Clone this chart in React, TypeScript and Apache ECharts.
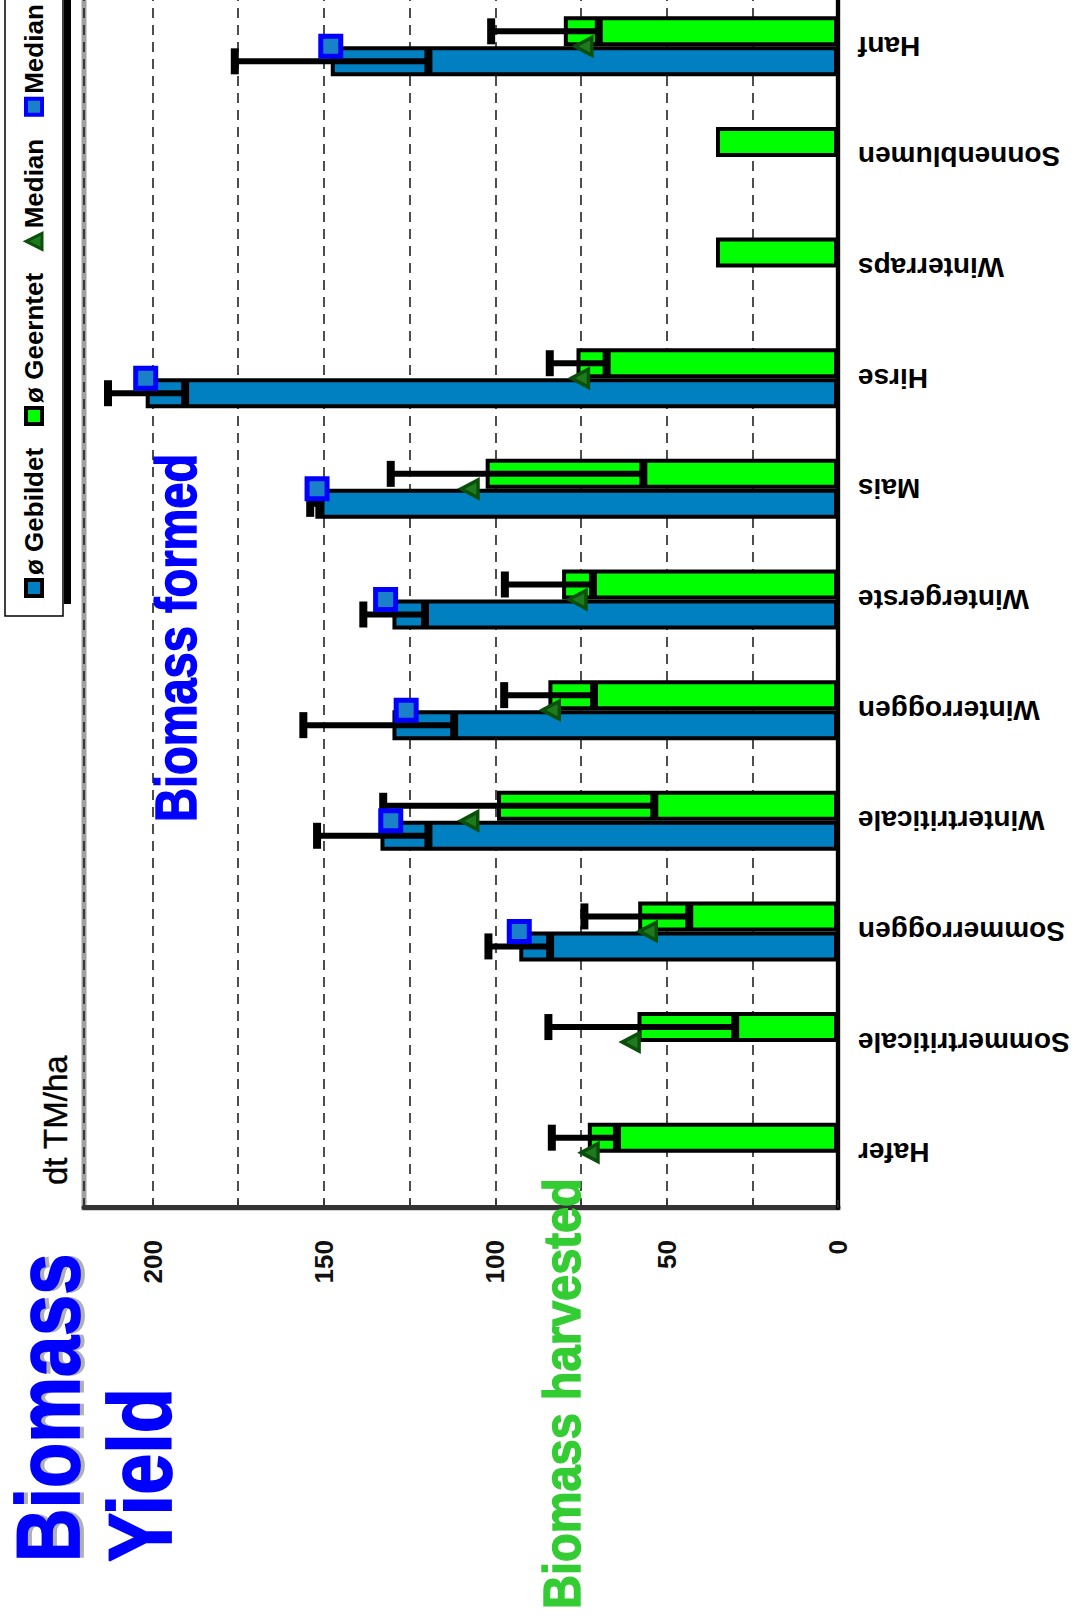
import React, { useEffect, useRef } from "react";
import * as echarts from "echarts";

const categories = [
  "Hafer", "Sommertriticale", "Sommerroggen", "Wintertriticale", "Winterroggen",
  "Wintergerste", "Mais", "Hirse", "Winterraps", "Sonnenblumen", "Hanf",
];
const gebildetMean = ["-", "-", 93, 133.5, 130, 130, 152.5, 202, "-", "-", 148];
const gebildetLow = [null, null, 84, 119.5, 112, 120.5, 151, 190.5, null, null, 119.5];
const gebildetHigh = [null, null, 102, 152, 156, 138.5, 154, 213, null, null, 176];
const gebildetMedian = ["-", "-", 93, 130.5, 126, 132, 152, 202, "-", "-", 148];

const geerntetMean = [73, 58.5, 58.3, 99.5, 84.5, 80.5, 102.8, 76.3, 35.6, 35.6, 80];
const geerntetLow = [64.5, 30, 43.4, 53.6, 71.2, 71.5, 56.8, 67.5, null, null, 69.8];
const geerntetHigh = [83.5, 84.5, 74, 132.7, 97.4, 97.2, 130.5, 84.1, null, null, 101.2];
const geerntetMedian = [72.5, 60.5, 55.5, 107.6, 83.8, 76, 107.5, 75.3, "-", "-", 74.3];

const valueTicks = [0, 50, 100, 150, 200];

const FONT = '"Liberation Sans", Arial, sans-serif';
const W = 1640;
const H = 1078;
const BAR_W = 30;

function errData(lo: (number | null)[], hi: (number | null)[]) {
  const out: number[][] = [];
  lo.forEach((l, i) => {
    const h = hi[i];
    if (l != null && h != null) out.push([i, l, h]);
  });
  return out;
}

function makeErr(offset: number) {
  return (params: any, api: any) => {
    const c = api.value(0);
    const p1 = api.coord([c, api.value(1)]);
    const p2 = api.coord([c, api.value(2)]);
    const x = p1[0] + offset;
    return {
      type: "group",
      children: [
        { type: "line", shape: { x1: x, y1: p1[1], x2: x, y2: p2[1] }, style: { stroke: "#000", lineWidth: 6 } },
        { type: "line", shape: { x1: x - 13, y1: p1[1], x2: x + 13, y2: p1[1] }, style: { stroke: "#000", lineWidth: 8 } },
        { type: "line", shape: { x1: x - 13, y1: p2[1], x2: x + 13, y2: p2[1] }, style: { stroke: "#000", lineWidth: 8 } },
      ],
    };
  };
}

function txt(text: string, x: number, y: number, size: number, weight: string, fill: string, scaleY: number, strokeW = 0, z = 10) {
  const style: any = { text, fontSize: size, fontWeight: weight, fontFamily: FONT, fill, verticalAlign: "middle", align: "left" };
  if (strokeW > 0) {
    style.stroke = fill;
    style.lineWidth = strokeW;
  }
  return { type: "text", x, y, scaleY, z, style };
}

export default function App() {
  const ref = useRef<HTMLDivElement>(null);
  useEffect(() => {
    if (!ref.current) return;
    const chart = echarts.init(ref.current, null, { renderer: "svg" });
    const option: any = {
      animation: false,
      backgroundColor: "#fff",
      grid: { left: 414, right: 9, top: 84, bottom: 240, show: true, borderColor: "#a0a0a0", borderWidth: 5, backgroundColor: "transparent" },
      legend: {
        left: 1006,
        top: 5,
        padding: [16, 12, 16, 18],
        itemGap: 22,
        itemWidth: 16,
        itemHeight: 16,
        backgroundColor: "#fff",
        borderColor: "#000",
        borderWidth: 1.5,
        selectedMode: false,
        textStyle: { fontSize: 26, fontWeight: "bold", fontFamily: FONT, color: "#000", lineHeight: 26 },
        formatter: (n: string) => (n.indexOf("Median") === 0 ? "Median" : n),
        data: [
          { name: "ø Gebildet", icon: "rect", itemStyle: { color: "#0080c0", borderColor: "#000", borderWidth: 4 } },
          { name: "ø Geerntet", icon: "rect", itemStyle: { color: "#00ff00", borderColor: "#000", borderWidth: 4 } },
          { name: "MedianGeerntet", icon: "triangle", itemStyle: { color: "#1f7a1f", borderColor: "#0a4f0a", borderWidth: 3 } },
          { name: "MedianGebildet", icon: "rect", itemStyle: { color: "#1a80c8", borderColor: "#0000ff", borderWidth: 4 } },
        ],
      },
      xAxis: {
        type: "category",
        data: categories,
        axisLine: { show: true, lineStyle: { color: "#000", width: 4 } },
        axisTick: { show: false },
        axisLabel: { rotate: 90, interval: 0, margin: 20, fontSize: 28, fontWeight: "bold", fontFamily: FONT, color: "#000" },
        splitLine: { show: false },
      },
      yAxis: {
        type: "value",
        min: 0,
        max: 220,
        interval: 25,
        axisLine: { show: true, lineStyle: { color: "#333", width: 5 } },
        axisTick: { show: true, inside: true, length: 8, lineStyle: { color: "#333", width: 1.5 } },
        axisLabel: {
          margin: 32,
          fontSize: 26,
          fontWeight: "bold",
          fontFamily: FONT,
          color: "#111",
          formatter: (v: number) => (valueTicks.indexOf(v) >= 0 ? String(v) : ""),
        },
        splitLine: { show: true, lineStyle: { color: "#222", width: 1.6, type: [10, 7] } },
      },
      graphic: [
        { type: "rect", shape: { x: 1018, y: 64, width: 700, height: 7 }, style: { fill: "#000" }, z: 1 },
        txt("Biomass", 60, 52, 74, "bold", "#b0b0b0", 1.2, 1.5, 9),
        txt("Biomass", 60, 48, 74, "bold", "#0000ff", 1.2, 1.5),
        txt("Yield", 60, 140, 74, "bold", "#0000ff", 1.2, 1.5),
        txt("Biomass formed", 800, 176, 47, "bold", "#0000ff", 1.22, 1.2),
        txt("Biomass harvested", 13, 562, 47, "bold", "#33cc33", 1.12, 1.2),
        txt("dt TM/ha", 437, 55, 33, "normal", "#000", 1.0, 0.4),
      ],
      series: [
        {
          name: "ø Gebildet",
          type: "bar",
          data: gebildetMean,
          barWidth: BAR_W,
          barGap: "0%",
          itemStyle: { color: "#0080c0", borderColor: "#000", borderWidth: 4 },
          z: 2,
        },
        {
          name: "ø Geerntet",
          type: "bar",
          data: geerntetMean,
          barWidth: BAR_W,
          barGap: "0%",
          itemStyle: { color: "#00ff00", borderColor: "#000", borderWidth: 4 },
          z: 2,
        },
        {
          name: "errGebildet",
          type: "custom",
          renderItem: makeErr(-BAR_W / 2),
          data: errData(gebildetLow, gebildetHigh),
          encode: { x: 0, y: [1, 2] },
          z: 4,
        },
        {
          name: "errGeerntet",
          type: "custom",
          renderItem: makeErr(BAR_W / 2),
          data: errData(geerntetLow, geerntetHigh),
          encode: { x: 0, y: [1, 2] },
          z: 4,
        },
        {
          name: "MedianGeerntet",
          type: "scatter",
          data: geerntetMedian,
          symbol: "triangle",
          symbolSize: [18, 17],
          itemStyle: { color: "#1f7a1f", borderColor: "#0a4f0a", borderWidth: 3.5, opacity: 1 },
          z: 6,
        },
        {
          name: "MedianGebildet",
          type: "scatter",
          data: gebildetMedian,
          symbol: "rect",
          symbolSize: 20,
          itemStyle: { color: "#1a80c8", borderColor: "#0000ff", borderWidth: 5, opacity: 1 },
          z: 6,
        },
      ],
    };
    chart.setOption(option);
    return () => chart.dispose();
  }, []);
  return (
    <div
      ref={ref}
      style={{
        position: "absolute",
        left: 0,
        top: 0,
        width: W,
        height: H,
        transformOrigin: "0 0",
        transform: "translate(0px, 1622px) rotate(-90deg)",
        background: "#fff",
      }}
    />
  );
}
